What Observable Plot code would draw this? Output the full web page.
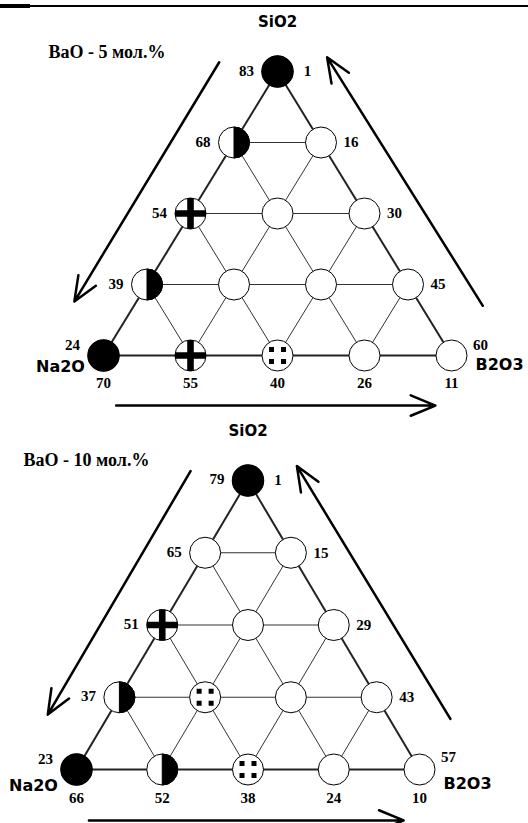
<!DOCTYPE html>
<html>
<head>
<meta charset="utf-8">
<script src="https://cdn.jsdelivr.net/npm/d3@7"></script>
<script src="https://cdn.jsdelivr.net/npm/@observablehq/plot@0.6"></script>
<style>
  html, body { margin: 0; padding: 0; background: #fff; }
  #wrap { position: relative; width: 528px; }
  #wrap svg { display: block; }
  .rule { position: absolute; left: 0; top: 5px; width: 528px; height: 2px; background: #000; }
  .rule2 { position: absolute; left: 0; top: 4px; width: 30px; height: 4px; background: #000; }
</style>
</head>
<body>
<div id="wrap"><div class="rule"></div><div class="rule2"></div></div>
<script>
// ---- data ----
const titles = ["BaO - 5 мол.%", "BaO - 10 мол.%"];
const componentNames = ["SiO2", "Na2O", "B2O3"];
// marker type per composition point, rows from SiO2 apex to Na2O–B2O3 base
const markers5  = ["filled", "half", "empty", "plus", "empty", "empty", "half", "empty", "empty", "empty", "filled", "plus", "dots", "empty", "empty"];
const markers10 = ["filled", "empty", "empty", "plus", "empty", "empty", "half", "dots", "empty", "empty", "filled", "half", "dots", "empty", "empty"];
// tick labels along edges
const sio2_5  = [83, 68, 54, 39, 24];
const b2o3_5  = [1, 16, 30, 45, 60];
const na2o_5  = [70, 55, 40, 26, 11];
const sio2_10 = [79, 65, 51, 37, 23];
const b2o3_10 = [1, 15, 29, 43, 57];
const na2o_10 = [66, 52, 38, 24, 10];

// ---- geometry helpers (ternary grid coordinates) ----
const nodes = [];
for (let i = 0; i < 5; i++) for (let j = 0; j <= i; j++) nodes.push({i, j, u: j - i / 2, v: i});
const edges = [];
for (let i = 0; i < 5; i++) {
  for (let j = 0; j <= i; j++) {
    const u = j - i / 2;
    if (j < i) edges.push({x1: u, y1: i, x2: u + 1, y2: i, outer: i === 4});
    if (i < 4) {
      edges.push({x1: u, y1: i, x2: u - 0.5, y2: i + 1, outer: j === 0});
      edges.push({x1: u, y1: i, x2: u + 0.5, y2: i + 1, outer: j === i});
    }
  }
}
const arrows = [
  {x1: -0.67, y1: -0.13, x2: -2.335, y2: 3.24},
  {x1: 2.36, y1: 3.3, x2: 0.57, y2: -0.2},
  {x1: -1.855, y1: 4.705, x2: 1.815, y2: 4.705}
];

// ---- custom symbols ----
const halfSym = {draw(ctx, size) {
  const r = Math.sqrt(size / Math.PI);
  ctx.moveTo(0, -r); ctx.arc(0, 0, r, -Math.PI / 2, Math.PI / 2); ctx.closePath();
}};
const plusSym = {draw(ctx, size) {
  const r = Math.sqrt(size / Math.PI), h = 3.3;
  const p = [[-h,-r],[h,-r],[h,-h],[r,-h],[r,h],[h,h],[h,r],[-h,r],[-h,h],[-r,h],[-r,-h],[-h,-h]];
  ctx.moveTo(p[0][0], p[0][1]);
  for (let k = 1; k < p.length; k++) ctx.lineTo(p[k][0], p[k][1]);
  ctx.closePath();
}};
const dotsSym = {draw(ctx) {
  const s = 5, o = 6;
  for (const [a, b] of [[-o,-o],[o,-o],[-o,o],[o,o]]) ctx.rect(a - s / 2, b - s / 2, s, s);
}};

const serif = "'Liberation Serif', 'Times New Roman', serif";
const sans = "'DejaVu Sans', Verdana, sans-serif";
const R = 15.5;

function triangle(cfg) {
  const pts = nodes.map((n, k) => ({...n, type: cfg.markers[k]}));
  const leftPts = nodes.filter(n => n.j === 0).map((n, k) => ({...n, label: cfg.left[k]}));
  const rightPts = nodes.filter(n => n.j === n.i).map((n, k) => ({...n, label: cfg.right[k]}));
  const basePts = nodes.filter(n => n.i === 4).map((n, k) => ({...n, label: cfg.bottom[k]}));
  const numStyle = {fontFamily: serif, fontWeight: "bold", fontSize: 15, fill: "#000"};
  const nameStyle = {fontFamily: sans, fontWeight: "bold", fontSize: 15, fill: "#000"};
  return Plot.plot({
    width: 528, height: cfg.height,
    margin: 0,
    x: {domain: [-2, 2], range: cfg.xRange, axis: null},
    y: {domain: [0, 4], range: cfg.yRange, axis: null},
    style: {background: "#fff", overflow: "visible"},
    marks: [
      Plot.link(edges.filter(e => !e.outer), {x1: "x1", y1: "y1", x2: "x2", y2: "y2", stroke: "#333", strokeWidth: 1}),
      Plot.link(edges.filter(e => e.outer), {x1: "x1", y1: "y1", x2: "x2", y2: "y2", stroke: "#222", strokeWidth: 2}),
      Plot.arrow(arrows, {x1: "x1", y1: "y1", x2: "x2", y2: "y2", stroke: "#000", strokeWidth: 2.5, headLength: 16, headAngle: 45, bend: 0}),
      Plot.dot(pts, {x: "u", y: "v", r: R, fill: "#fff", stroke: "#000", strokeWidth: 1}),
      Plot.dot(pts.filter(d => d.type === "filled"), {x: "u", y: "v", r: R, fill: "#000", stroke: "#000"}),
      Plot.dot(pts.filter(d => d.type === "half"), {x: "u", y: "v", r: R, symbol: halfSym, fill: "#000", stroke: "#000", strokeWidth: 1}),
      Plot.dot(pts.filter(d => d.type === "plus"), {x: "u", y: "v", r: R, symbol: plusSym, fill: "#000"}),
      Plot.dot(pts.filter(d => d.type === "dots"), {x: "u", y: "v", r: R, symbol: dotsSym, fill: "#000"}),
      Plot.text(leftPts.filter(d => d.i < 4), {x: "u", y: "v", text: "label", dx: -31, dy: cfg.leftDy, ...numStyle}),
      Plot.text(leftPts.filter(d => d.i === 4), {x: "u", y: "v", text: "label", dx: -31, dy: cfg.cornerLDy, ...numStyle}),
      Plot.text(rightPts.filter(d => d.i < 4), {x: "u", y: "v", text: "label", dx: 30, dy: 0, ...numStyle}),
      Plot.text(rightPts.filter(d => d.i === 4), {x: "u", y: "v", text: "label", dx: 29, dy: cfg.cornerRDy, ...numStyle}),
      Plot.text(basePts, {x: "u", y: "v", text: "label", dy: cfg.baseDy, ...numStyle}),
      Plot.text([componentNames[0]], {x: () => 0, y: () => 0, text: d => d, dy: -49, ...nameStyle}),
      Plot.text([componentNames[1]], {x: () => -2, y: () => 4, text: d => d, dx: -43, dy: cfg.naDy, ...nameStyle, fontSize: 16}),
      Plot.text([componentNames[2]], {x: () => 2, y: () => 4, text: d => d, dx: 48, dy: cfg.bDy, ...nameStyle, fontSize: 16}),
      Plot.text([cfg.title], {frameAnchor: "top-left", text: d => d, textAnchor: "start", dx: cfg.titleX, dy: cfg.titleY, ...numStyle, fontSize: 18})
    ]
  });
}

const wrap = document.getElementById("wrap");
wrap.appendChild(triangle({
  markers: markers5, left: sio2_5, right: b2o3_5, bottom: na2o_5, title: titles[0],
  height: 411, xRange: [103, 451], yRange: [71, 355],
  leftDy: 0, cornerLDy: -10, cornerRDy: -10, baseDy: 28, naDy: 11, bDy: 9, titleX: 48, titleY: 45
}));
wrap.appendChild(triangle({
  markers: markers10, left: sio2_10, right: b2o3_10, bottom: na2o_10, title: titles[1],
  height: 412, xRange: [76, 419], yRange: [69, 358],
  leftDy: -1, cornerLDy: -10, cornerRDy: -12, baseDy: 29, naDy: 16, bDy: 14, titleX: 23, titleY: 42
}));
</script>
</body>
</html>
